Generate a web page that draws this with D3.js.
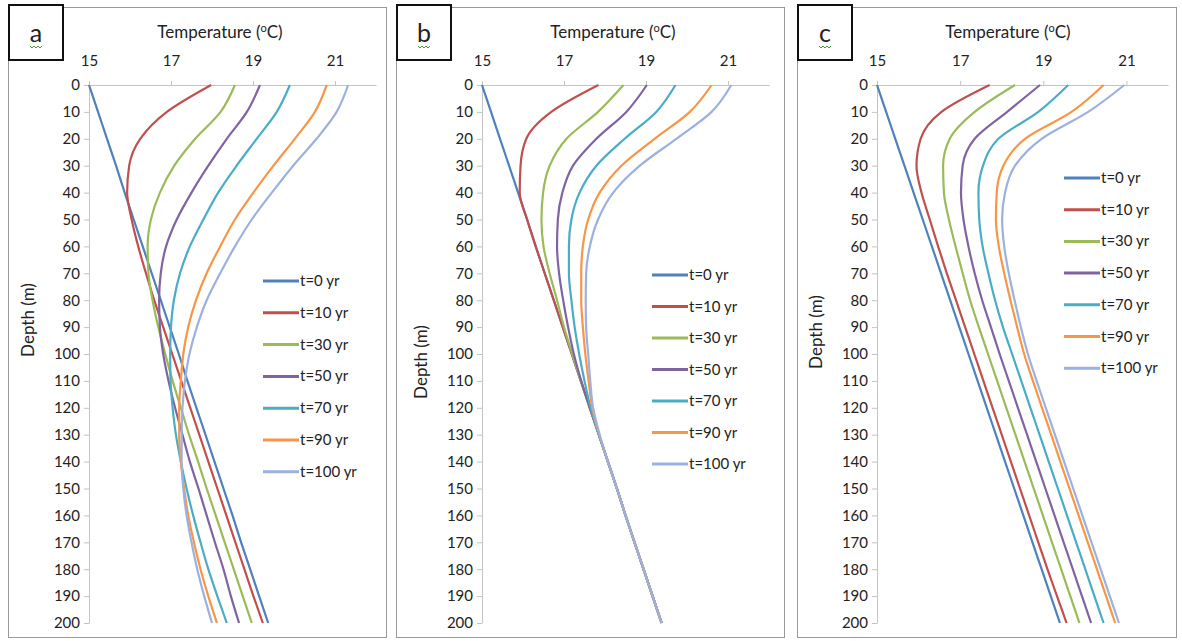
<!DOCTYPE html>
<html>
<head>
<meta charset="utf-8">
<script src="https://cdn.jsdelivr.net/npm/d3@7"></script>
<style>
body { margin: 0; background: #fff; }
svg text { font-family: Lato, "Open Sans", sans-serif; }
</style>
</head>
<body>
<script>
// depth (m) of every sample, also the y tick values
var depths = [0,10,20,30,40,50,60,70,80,90,100,110,120,130,140,150,160,170,180,190,200];
var tempTicks = [15,17,19,21];
var seriesNames = ["t=0 yr","t=10 yr","t=30 yr","t=50 yr","t=70 yr","t=90 yr","t=100 yr"];
var seriesColors = ["#4f81bd","#c0504d","#9bbb59","#8064a2","#4bacc6","#f79646","#9db1e0"];

// temperatures (C), one row per series
var tempA = [
  [15.00,15.22,15.44,15.66,15.87,16.09,16.31,16.53,16.75,16.97,17.19,17.40,17.62,17.84,18.06,18.28,18.50,18.71,18.93,19.15,19.37],
  [17.98,16.90,16.25,15.98,15.93,16.04,16.20,16.39,16.59,16.81,17.03,17.25,17.47,17.69,17.91,18.13,18.35,18.57,18.79,19.01,19.24],
  [18.56,18.21,17.59,17.08,16.73,16.51,16.43,16.45,16.55,16.69,16.86,17.04,17.24,17.44,17.66,17.87,18.09,18.31,18.53,18.75,18.97],
  [19.17,18.85,18.36,17.91,17.50,17.14,16.88,16.75,16.71,16.73,16.81,16.94,17.10,17.28,17.46,17.67,17.87,18.07,18.28,18.46,18.66],
  [19.90,19.58,19.09,18.60,18.15,17.79,17.46,17.22,17.07,17.00,16.98,16.99,17.04,17.12,17.24,17.38,17.54,17.72,17.91,18.13,18.36],
  [20.80,20.51,20.02,19.50,19.01,18.56,18.20,17.87,17.61,17.42,17.30,17.24,17.20,17.20,17.24,17.32,17.42,17.56,17.72,17.91,18.12],
  [21.32,21.04,20.55,19.98,19.46,18.97,18.56,18.20,17.87,17.63,17.45,17.34,17.28,17.26,17.26,17.30,17.38,17.50,17.64,17.81,18.00]
];

// panel b
var tempB = [
  [15.00,15.22,15.44,15.66,15.88,16.10,16.31,16.53,16.75,16.97,17.19,17.41,17.63,17.85,18.07,18.29,18.50,18.72,18.94,19.16,19.38],
  [17.84,16.69,16.08,15.94,15.92,16.10,16.31,16.53,16.75,16.97,17.19,17.41,17.63,17.85,18.07,18.29,18.50,18.72,18.94,19.16,19.38],
  [18.45,17.83,17.06,16.65,16.49,16.45,16.50,16.65,16.83,17.00,17.20,17.41,17.63,17.85,18.07,18.29,18.50,18.72,18.94,19.16,19.38],
  [19.02,18.52,17.79,17.22,16.96,16.85,16.83,16.88,16.98,17.10,17.24,17.42,17.63,17.85,18.07,18.29,18.50,18.72,18.94,19.16,19.38],
  [19.72,19.25,18.48,17.79,17.38,17.18,17.12,17.12,17.18,17.26,17.37,17.50,17.65,17.85,18.07,18.29,18.50,18.72,18.94,19.16,19.38],
  [20.60,20.07,19.21,18.40,17.87,17.59,17.46,17.42,17.42,17.46,17.52,17.60,17.69,17.86,18.07,18.29,18.50,18.72,18.94,19.16,19.38],
  [21.08,20.60,19.74,18.85,18.20,17.83,17.63,17.54,17.53,17.54,17.59,17.64,17.71,17.87,18.07,18.29,18.50,18.72,18.94,19.16,19.38]
];

// panel c
var tempC = [
  [15.00,15.22,15.44,15.66,15.88,16.10,16.32,16.54,16.76,16.98,17.20,17.42,17.64,17.86,18.08,18.30,18.52,18.74,18.96,19.18,19.40],
  [17.71,16.55,16.05,15.95,16.07,16.27,16.47,16.68,16.90,17.12,17.34,17.56,17.78,18.00,18.22,18.44,18.66,18.88,19.10,19.33,19.56],
  [18.32,17.35,16.75,16.59,16.61,16.73,16.89,17.06,17.24,17.45,17.67,17.89,18.11,18.33,18.55,18.77,18.99,19.21,19.43,19.65,19.87],
  [18.92,18.13,17.35,17.06,17.02,17.08,17.20,17.35,17.53,17.74,17.95,18.17,18.39,18.61,18.83,19.05,19.27,19.49,19.71,19.93,20.15],
  [19.60,18.88,17.92,17.55,17.44,17.46,17.54,17.68,17.84,18.03,18.25,18.47,18.69,18.91,19.13,19.35,19.57,19.79,20.01,20.23,20.45],
  [20.45,19.68,18.56,18.04,17.88,17.86,17.93,18.06,18.21,18.37,18.54,18.75,18.97,19.19,19.41,19.63,19.85,20.07,20.29,20.51,20.73],
  [20.95,20.08,18.96,18.32,18.08,18.01,18.06,18.17,18.31,18.46,18.63,18.84,19.06,19.28,19.50,19.72,19.94,20.16,20.38,20.60,20.82]
];

var svg = d3.select("body").append("svg")
  .attr("width", 1182)
  .attr("height", 641);

var panels = [
  { label: "a", temps: tempA, frameX: 8,   frameW: 378, left: 89,  right: 376,  legX: 263,  legY: 281, legStep: 31.8, depthY: 320 },
  { label: "b", temps: tempB, frameX: 396, frameW: 388, left: 482, right: 769,  legX: 652,  legY: 275, legStep: 31.5, depthY: 362 },
  { label: "c", temps: tempC, frameX: 797, frameW: 379, left: 877, right: 1168, legX: 1064, legY: 178, legStep: 31.7, depthY: 332 }
];

function drawPanel(p) {
  var g = svg.append("g");

  g.append("rect")
    .attr("x", p.frameX + 0.5).attr("y", 7.5)
    .attr("width", p.frameW).attr("height", 630)
    .style("fill", "#fff").style("stroke", "#9a9a9a");

  var x = d3.scaleLinear().domain([15, 22]).range([p.left, p.right]);
  var y = d3.scaleLinear().domain([0, 200]).range([85, 623]);

  var xAxis = d3.axisTop(x).tickValues(tempTicks).tickFormat(d3.format("d"))
    .tickSize(4).tickSizeOuter(0).tickPadding(15);
  var gx = g.append("g").attr("transform", "translate(0,85)").call(xAxis);

  var yAxis = d3.axisLeft(y).tickValues(depths).tickFormat(d3.format("d"))
    .tickSize(5).tickSizeOuter(0).tickPadding(4);
  var gy = g.append("g").attr("transform", "translate(" + p.left + ",0)").call(yAxis);

  [gx, gy].forEach(function(a) {
    a.select(".domain").style("stroke", "#c4c4c4");
    a.selectAll(".tick line").style("stroke", "#c4c4c4");
    a.selectAll(".tick text").style("font-size", "15px").style("fill", "#222")
      .style("font-family", "Lato, sans-serif");
  });

  // axis titles
  var title = g.append("text")
    .attr("x", p.left + 131).attr("y", 38)
    .attr("text-anchor", "middle")
    .style("font-size", "17px").style("fill", "#222");
  title.append("tspan").text("Temperature (");
  title.append("tspan").text("o").attr("dy", -6).style("font-size", "11px");
  title.append("tspan").text("C)").attr("dy", 6);

  g.append("text")
    .attr("transform", "translate(" + (p.left - 55) + "," + p.depthY + ") rotate(-90)")
    .attr("text-anchor", "middle")
    .style("font-size", "17px").style("fill", "#222")
    .text("Depth (m)");

  var line = d3.line()
    .x(function(d) { return x(d[1]); })
    .y(function(d) { return y(d[0]); })
    .curve(d3.curveMonotoneY);

  p.temps.forEach(function(row, i) {
    g.append("path")
      .datum(d3.zip(depths, row))
      .attr("d", line)
      .style("fill", "none")
      .style("stroke", seriesColors[i])
      .style("stroke-width", 2.2);
  });

  // legend
  seriesNames.forEach(function(name, i) {
    var ly = p.legY + i * p.legStep;
    g.append("line")
      .attr("x1", p.legX).attr("x2", p.legX + 36)
      .attr("y1", ly).attr("y2", ly)
      .style("stroke", seriesColors[i]).style("stroke-width", 3);
    g.append("text")
      .attr("x", p.legX + 37).attr("y", ly + 5)
      .style("font-size", "15px").style("fill", "#222")
      .text(name);
  });

  // panel letter box
  g.append("rect")
    .attr("x", p.frameX + 1).attr("y", 5)
    .attr("width", 54).attr("height", 55)
    .style("fill", "#fff").style("stroke", "#111").style("stroke-width", 2);
  g.append("text")
    .attr("x", p.frameX + 28).attr("y", 42)
    .attr("text-anchor", "middle")
    .style("font-size", "25px").style("fill", "#222")
    .text(p.label);
  var sx = p.frameX + 22;
  g.append("path")
    .attr("d", "M" + sx + ",46 l2,2 l2,-2 l2,2 l2,-2 l2,2 l2,-2")
    .style("fill", "none").style("stroke", "#4a9a3a").style("stroke-width", 1);
}

panels.forEach(drawPanel);
</script>
</body>
</html>
